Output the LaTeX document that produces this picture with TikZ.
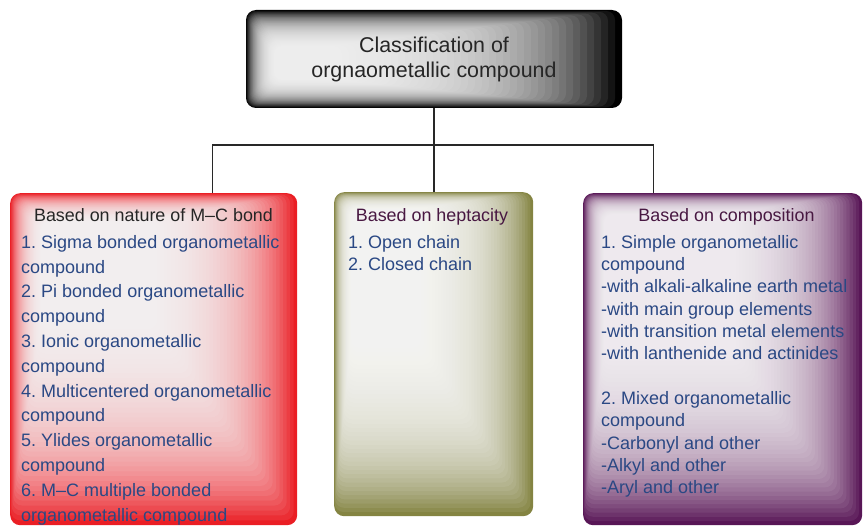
\documentclass[tikz,border=0pt]{standalone}
\usepackage{fontspec}
\setmainfont{Liberation Sans}
\usetikzlibrary{positioning}
\frenchspacing

\definecolor{boxred}{RGB}{234,30,36}
\definecolor{boxolive}{RGB}{132,132,66}
\definecolor{boxplum}{RGB}{88,22,86}
\definecolor{itemblue}{RGB}{42,72,132}
\definecolor{headplum}{RGB}{72,24,66}
\definecolor{headgray}{RGB}{38,38,38}
\definecolor{linkgray}{RGB}{40,40,40}

\tikzset{
  glow/.style n args={5}{path picture={
      \foreach \i in {1,...,40}
        \fill[white, opacity=#5, rounded corners=9pt]
          ([shift={(\i*#1,\i*#4)}]path picture bounding box.south west) rectangle
          ([shift={(-\i*#2,-\i*#3)}]path picture bounding box.north east);
  }},
  titlebox/.style={rounded corners=10pt, align=center, text=headgray,
    font=\fontsize{21.4}{25}\selectfont},
  catbox/.style={rounded corners=10pt, anchor=north west, inner sep=0pt},
  headtext/.style={anchor=base, inner sep=0pt, font=\fontsize{17.9}{22}\selectfont},
  itemtext/.style={text=itemblue, align=left, inner sep=0pt, anchor=north west,
    font=\fontsize{18}{#1}\selectfont},
  link/.style={draw=linkgray, line width=1.3pt}
}

\begin{document}
\begin{tikzpicture}[x=1pt, y=1pt]
  \useasboundingbox (0,0) rectangle (863,-527);

  % top box
  \node[titlebox, fill=black, glow={0.7}{7}{0.9}{0.7}{0.075},
    minimum width=376pt, minimum height=98pt] (title) at (434,-59)
    {Classification of\\orgnaometallic compound};

  % the three classes
  \node[catbox, fill=boxred, glow={0.77}{3.5}{0.7}{4.9}{0.075},
    minimum width=287pt, minimum height=332pt] (nature) at (10,-193) {};
  \node[catbox, fill=boxolive, glow={0.42}{2.8}{0.42}{4.2}{0.075},
    minimum width=199pt, minimum height=324pt] (hapto) at (334,-192) {};
  \node[catbox, fill=boxplum, glow={0.52}{3.15}{0.52}{4.2}{0.065},
    minimum width=279pt, minimum height=332pt] (compos) at (583,-193) {};

  % headings
  \node[headtext, text=headgray] (natureHead) at (153.5,-221) {Based on nature of M–C bond};
  \node[headtext, text=headplum] (haptoHead) at (432,-221) {Based on heptacity};
  \node[headtext, text=headplum] (composHead) at (726.5,-221) {Based on composition};

  % lists
  \node[itemtext=24.8] (natureList) at (21,-235.1)
    {1. Sigma bonded organometallic\\compound\\2. Pi bonded organometallic\\compound\\
     3. Ionic organometallic\\compound\\4. Multicentered organometallic\\compound\\
     5. Ylides organometallic\\compound\\6. M–C multiple bonded\\organometallic compound};
  \node[itemtext=22] (haptoList) at (348,-235.3)
    {1. Open chain\\2. Closed chain};
  \node[itemtext=22.3] (composList) at (601,-235.1)
    {1. Simple organometallic\\compound\\-with alkali-alkaline earth metal\\
     -with main group elements\\-with transition metal elements\\
     -with lanthenide and actinides\\[22.3pt]
     2. Mixed organometallic\\compound\\-Carbonyl and other\\-Alkyl and other\\-Aryl and other};

  % connectors
  \coordinate (split) at (434,-145);
  \draw[link] (title.south) -- (split);
  \draw[link] ([xshift=59pt]nature.north) |- (split) -| ([xshift=-69.5pt]compos.north);
  \draw[link] (split) -- (split |- hapto.north);

\end{tikzpicture}
\end{document}
